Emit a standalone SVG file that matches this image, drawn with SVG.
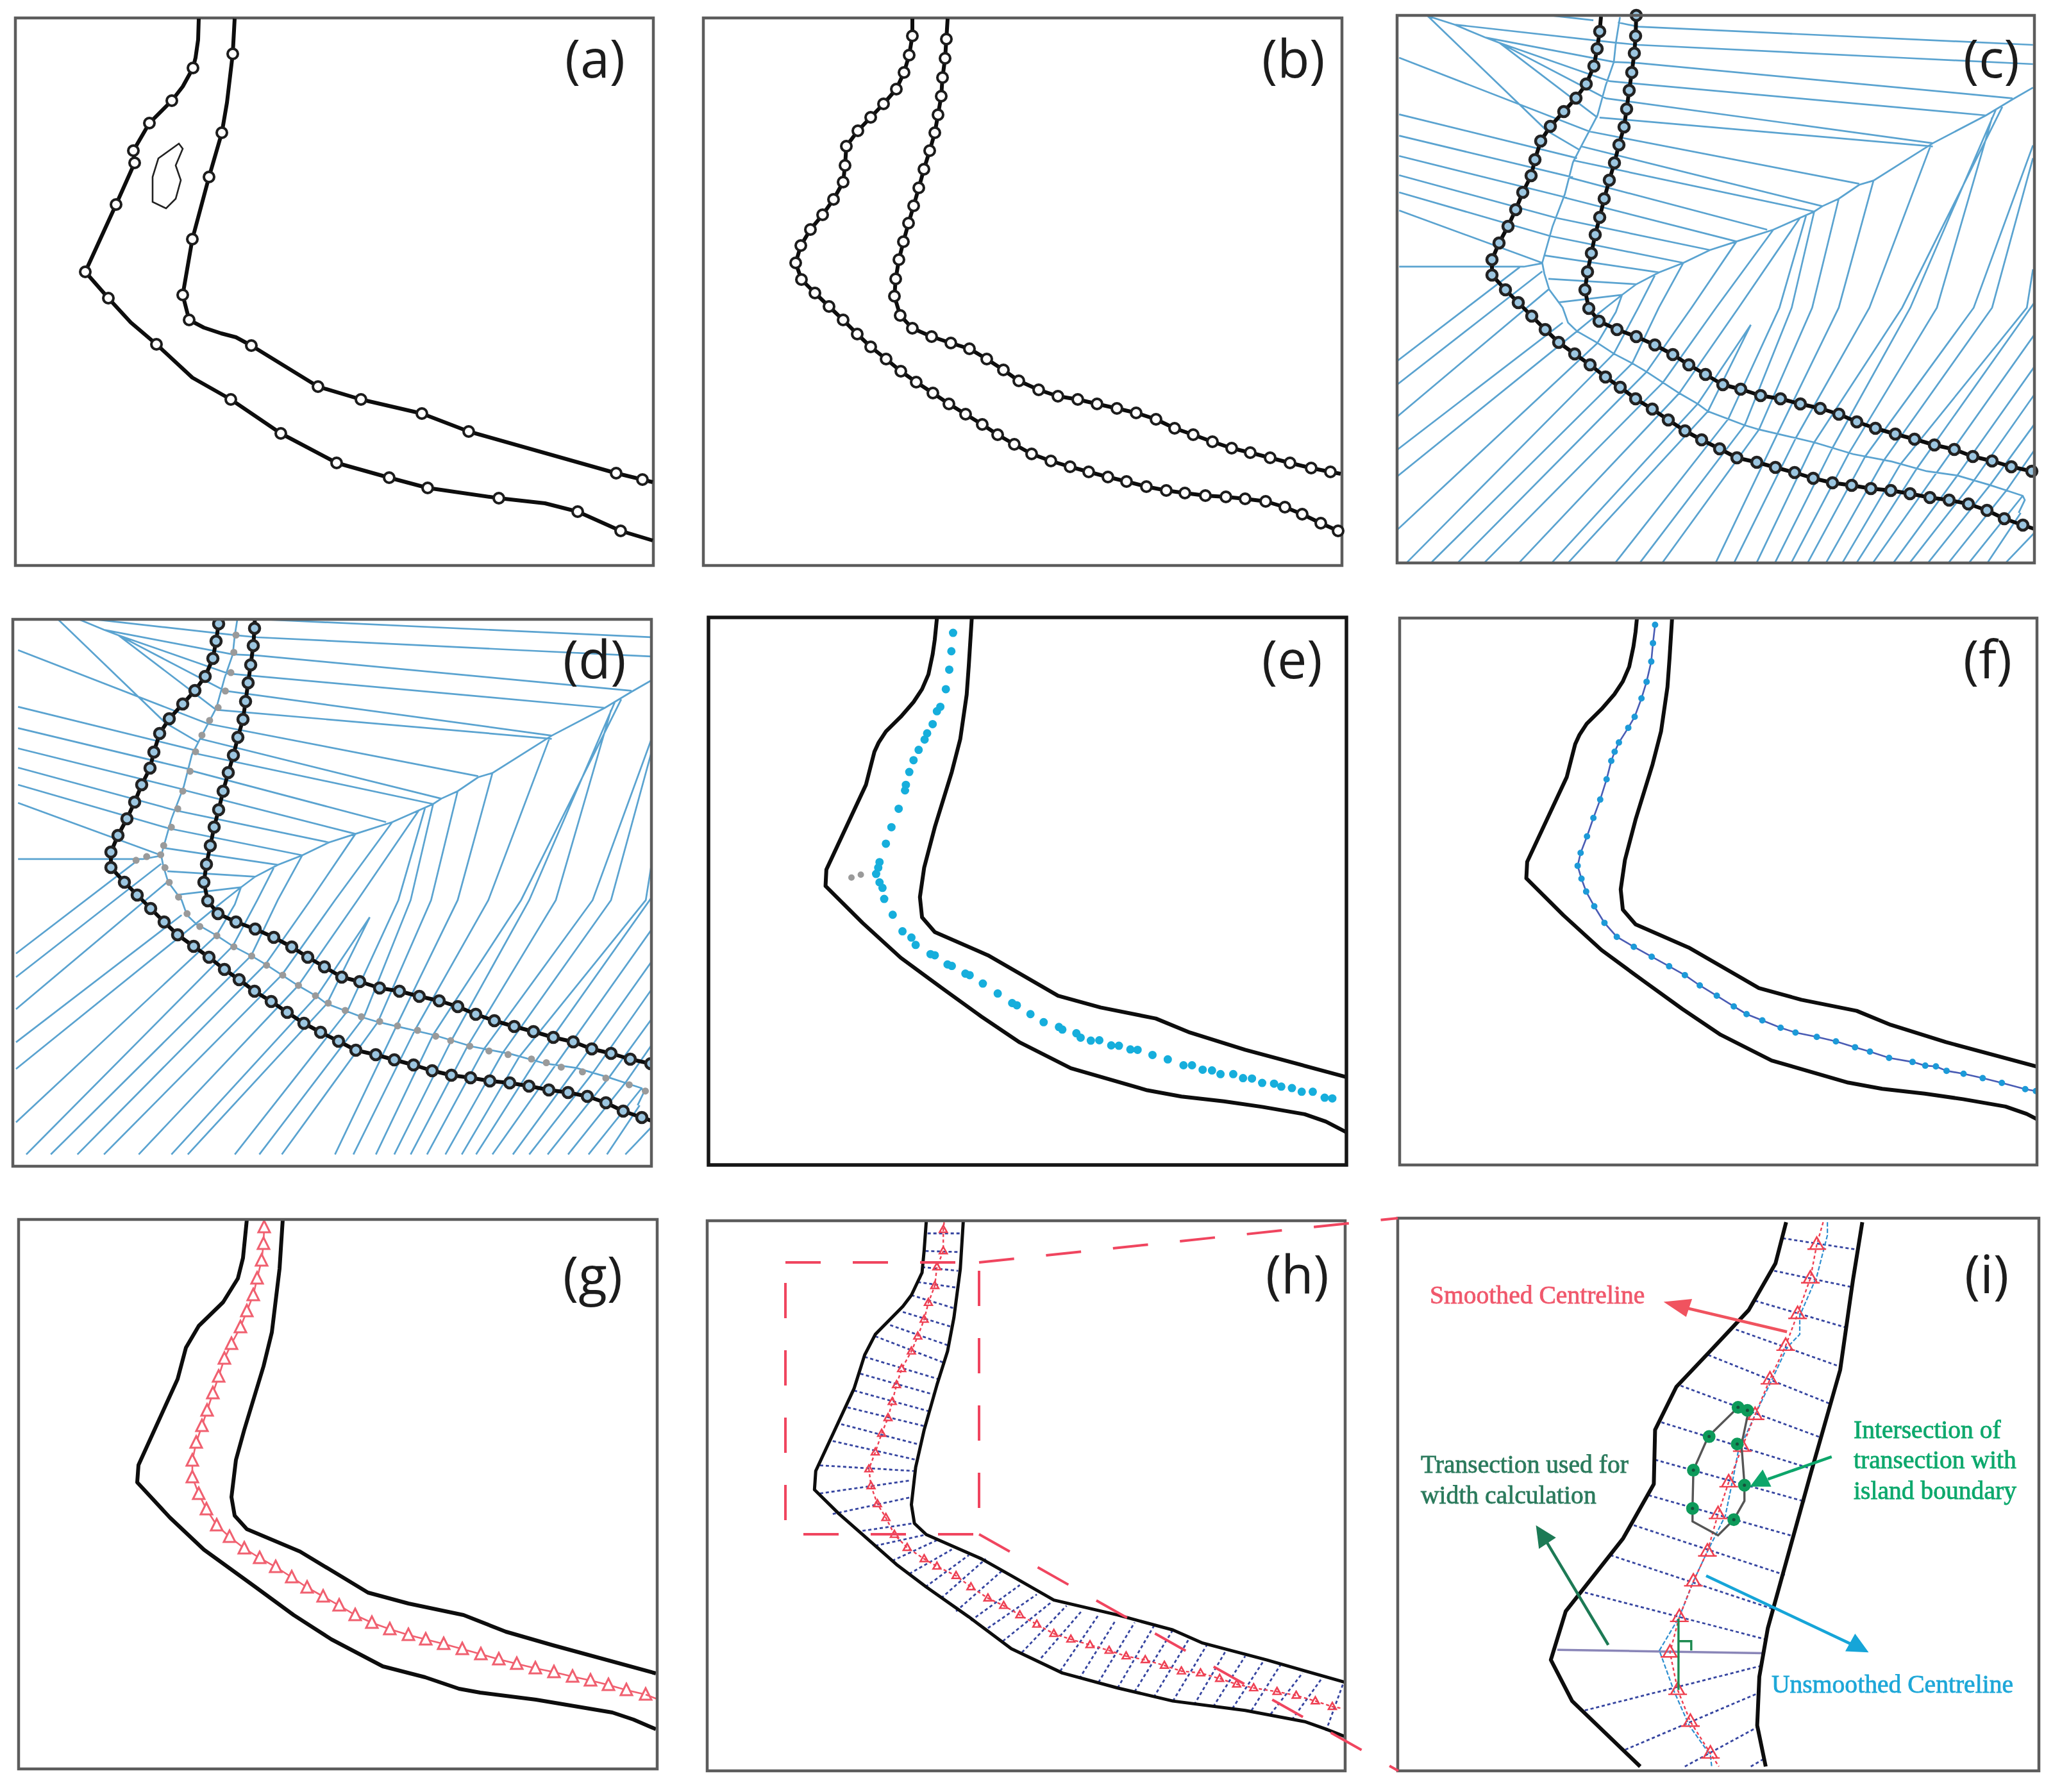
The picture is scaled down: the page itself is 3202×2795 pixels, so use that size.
<svg xmlns="http://www.w3.org/2000/svg" width="3202" height="2795" viewBox="0 0 3202 2795">
<style>
.frame{fill:none;stroke:#5c5c5c;stroke-width:4.5}
.frame-d{fill:none;stroke:#141414;stroke-width:5.5}
.bank{fill:none;stroke:#0c0c0c;stroke-width:6;stroke-linejoin:round;stroke-linecap:butt;vector-effect:non-scaling-stroke}
.bank-t{fill:none;stroke:#0c0c0c;stroke-width:5;stroke-linejoin:round;vector-effect:non-scaling-stroke}
.vor{fill:none;stroke:#5aa3d0;stroke-width:2.7;vector-effect:non-scaling-stroke}
.nodes{fill:none;stroke:none}
.ringline{fill:none;stroke:#0c0c0c;stroke-width:6;stroke-linejoin:round}
.label{font-family:"Open Sans","Noto Sans",sans-serif;font-size:82px;fill:#1a1a1a}
.note{font-family:"Liberation Serif",serif;font-size:39.6px;stroke-width:.8}
.dots{fill:none;stroke-linecap:round;vector-effect:non-scaling-stroke}
.tran{fill:none;stroke:#3644a0;stroke-width:2.8;stroke-dasharray:5 4;vector-effect:non-scaling-stroke}
.red{fill:none;stroke:#ee3f52;stroke-width:2.4;stroke-dasharray:5 4;vector-effect:non-scaling-stroke}
.zoomline{fill:none;stroke:#f0455e;stroke-width:4;stroke-dasharray:55 50}
</style>
<defs>
<filter id="soft" filterUnits="userSpaceOnUse" x="0" y="0" width="3202" height="2795"><feGaussianBlur stdDeviation=".7"/></filter>
<marker id="ringW" markerUnits="userSpaceOnUse" markerWidth="26" markerHeight="26" refX="13" refY="13" viewBox="0 0 26 26"><circle cx="13" cy="13" r="8" fill="#fff" stroke="#1a1a1a" stroke-width="4"/></marker>
<marker id="ringB" markerUnits="userSpaceOnUse" markerWidth="26" markerHeight="26" refX="13" refY="13" viewBox="0 0 26 26"><circle cx="13" cy="13" r="8" fill="#9cc6e0" stroke="#222" stroke-width="4.6"/></marker>
<marker id="triG" markerUnits="userSpaceOnUse" markerWidth="26" markerHeight="26" refX="13" refY="13" viewBox="0 0 26 26"><path d="M13 3L4 21H22Z" fill="#fff" stroke="#f0606f" stroke-width="3"/></marker>
<marker id="triH" markerUnits="userSpaceOnUse" markerWidth="30" markerHeight="30" refX="15" refY="15" viewBox="0 0 30 30"><path d="M15 4L6 22H24Z" fill="none" stroke="#ee3f52" stroke-width="4"/></marker>
<marker id="triI" markerUnits="userSpaceOnUse" markerWidth="52" markerHeight="52" refX="26" refY="26" viewBox="0 0 52 52"><path d="M26 6L10 38H42ZM4 38H48" fill="none" stroke="#ee4050" stroke-width="4"/></marker>
<clipPath id="cc"><rect x="2179" y="24" width="994" height="854"/></clipPath>
<clipPath id="cd"><rect x="20" y="966" width="996" height="853"/></clipPath>
<clipPath id="ce"><rect x="1105" y="963" width="995" height="854"/></clipPath>
<clipPath id="cf"><rect x="2183" y="964" width="994" height="853"/></clipPath>
<clipPath id="cg"><rect x="29" y="1902" width="996" height="857"/></clipPath>
<clipPath id="ci"><rect x="2180" y="1900" width="1000" height="862"/></clipPath>
<g id="voronoi" transform="translate(2179,20) scale(.6378,.3333)">
<path class="vor" d="M545 20L535 140 530 230 510 340 490 480 450 625 430 700 410 850 380 1000 355 1170 360 1220 372 1295 405 1380 418 1450 440 1490 490 1545 530 1595 575 1640 610 1680 650 1730 690 1780 735 1830 760 1865 850 1930 885 1950 930 1970 1020 2010 1115 2065 1210 2100 1295 2145 1370 2165 1450 2210 1530 2260 1535 2280 1520 2340
M1555 350L1505 405 1440 480 1310 610 1165 785 1130 805 1080 870 1040 905 1020 930 920 1015 830 1070 765 1110 700 1170 640 1215 585 1270 550 1320 490 1410
M5 1188L310 1188 355 1172
M365 10L480 35M540 45L590 65 1555 150M535 140L590 150 1230 210 1555 240M530 230L590 235 1505 400M520 320L1440 480M510 400L1310 610M495 490L1310 625M470 555L1130 800M450 625L1040 905M430 690L1020 930M420 770L905 1015M410 865L830 1070M390 960L765 1110M375 1045L700 1170M360 1135L640 1215M370 1245L585 1270M395 1355L550 1320
M75 15L365 550 445 640M75 15L140 55 215 115 250 140M140 55L535 140M215 115L530 230M250 140L520 320M250 140L510 400M250 140L490 490
M5 210L470 555M5 475L440 680M5 575L430 770M5 670L415 865M5 760L390 960M5 840L375 1045M5 925L355 1170
M440 1490L510 1380 550 1320M490 1545L535 1400 550 1320M530 1595L590 1380 630 1230M575 1640L640 1380 700 1170M610 1680L720 1380 830 1070M650 1730L780 1380 920 1015M690 1780L835 1380 985 960M735 1830L865 1460M760 1865L865 1460M810 1900L935 1380 1000 950M850 1930L965 1380 1020 930M885 1950L1015 1380 1080 870M930 1970L1080 1380 1165 785M975 1990L1155 1380 1305 620M1020 2010L1235 1380 1480 440M1065 2035L1255 1380 1465 450M1105 2060L1320 1380 1455 490M1145 2075L1410 1380 1555 620M1190 2095L1455 1380 1555 680M1230 2115L1540 1380 1555 1200M1270 2135L1568 1330M1320 2150L1568 1480M1370 2165L1568 1630M1410 2190L1568 1760M1450 2210L1568 1900M1490 2235L1568 2020
M0 1630L300 1190M0 1740L355 1210M0 1890L370 1295M0 2045L405 1450M0 2170L440 1490M0 2420L490 1545M25 2570L530 1595M85 2570L575 1640M150 2570L610 1680M215 2570L650 1730M300 2570L690 1780M380 2570L735 1830M420 2570L760 1865M535 2570L810 1900M595 2570L850 1930M650 2570L885 1950M780 2570L930 1970M825 2570L975 1990M880 2570L1020 2010M925 2570L1065 2035M965 2570L1105 2060M1005 2570L1145 2075M1050 2570L1190 2095M1090 2570L1230 2115M1125 2570L1270 2135M1165 2570L1320 2150M1215 2570L1370 2165M1255 2570L1410 2190M1300 2570L1450 2210M1350 2570L1490 2235M1400 2570L1530 2260M1445 2570L1525 2340M1490 2570L1560 2430"/>
</g>
<polyline id="ringC-l" points="2497,26 2495,49 2491,76 2486,103 2474,131 2458,153 2439,174 2418,197 2403,220 2394,249 2388,274 2375,300 2364,327 2352,353 2338,379 2327,405 2327,429 2348,452 2368,472 2389,493 2410,514 2431,534 2456,552 2480,569 2504,588 2527,604 2551,622 2577,638 2602,655 2628,672 2654,686 2682,700 2709,714 2740,721 2769,729 2799,737 2828,746 2858,753 2888,757 2918,762 2949,765 2979,770 3010,776 3040,780 3070,786 3099,796 3126,809 3155,819 3173,825" class="ringline" marker-mid="url(#ringB)"/>
<polyline id="ringC-r" points="2552,24 2551,56 2549,83 2545,113 2541,141 2537,170 2533,198 2525,226 2518,254 2510,281 2502,310 2495,339 2488,366 2482,395 2476,424 2472,452 2478,481 2494,501 2522,514 2552,525 2581,538 2609,553 2634,569 2660,584 2687,600 2715,607 2746,617 2777,622 2808,630 2839,637 2868,646 2896,658 2925,668 2956,677 2986,685 3017,694 3048,701 3077,712 3107,719 3137,728 3169,735 3173,736" class="ringline" marker-start="url(#ringB)" marker-mid="url(#ringB)"/>
<g id="riverE" transform="translate(1080,940) scale(.6631,.574)">
<polyline class="bank" points="575,42 570,100 565,140 555,195 540,235 520,270 490,310 455,350 438,380 428,405 418,450 408,495 315,725 313,770 400,870 490,965 590,1050 680,1125 770,1195 890,1265 1070,1325 1150,1342 1250,1355 1340,1370 1440,1390 1490,1410 1535,1437 1570,1460"/>
<polyline class="bank" points="657,42 650,170 645,250 630,370 610,460 570,610 545,720 535,800 540,855 570,895 695,958 860,1068 960,1100 1090,1130 1170,1168 1300,1215 1535,1288 1570,1298"/>
</g>
</defs>

<g id="figure" filter="url(#soft)">
<rect x="0" y="0" width="3202" height="2795" fill="#fff"/>

<g id="panel-a">
<rect class="frame" x="24" y="28" width="995" height="854"/>
<polyline class="bank" points="310,29 309,62 305,90 301,106 285,135 268,157 233,192 208,235 210,254 181,319 133,424 169,465 204,503 244,537 300,589 360,623 438,676 525,722 607,745 667,761 778,777 850,785 901,798 968,828 1018,843"/>
<polyline class="bank" points="366,29 363,84 354,160 346,207 326,276 300,373 285,460 295,499 318,511 345,520 368,526 392,539 496,603 563,623 658,645 731,673 961,738 1002,748 1018,752"/>
<polyline class="nodes" points="301,106 268,157 233,192 208,235 210,254 181,319 133,424 169,465 244,537 360,623 438,676 525,722 607,745 667,761 778,777 901,798 968,828" marker-start="url(#ringW)" marker-mid="url(#ringW)" marker-end="url(#ringW)"/>
<polyline class="nodes" points="363,84 346,207 326,276 300,373 285,460 295,499 392,539 496,603 563,623 658,645 731,673 961,738 1002,748" marker-start="url(#ringW)" marker-mid="url(#ringW)" marker-end="url(#ringW)"/>
<polygon points="279,224 285,232 274,258 282,281 274,310 259,325 238,315 238,276 247,247" fill="none" stroke="#222" stroke-width="2.6"/>
<text class="label" x="881" y="121">(a)</text>
</g>

<g id="panel-b">
<rect class="frame" x="1097" y="28" width="996" height="854"/>
<polyline class="ringline" marker-mid="url(#ringW)" points="1423,29 1423,56 1418,86 1410,113 1398,139 1378,162 1358,183 1338,204 1320,228 1318,258 1315,284 1300,311 1283,335 1264,358 1249,383 1241,410 1250,436 1271,457 1293,478 1315,499 1337,521 1358,541 1382,560 1405,579 1429,596 1455,613 1480,630 1506,646 1532,662 1556,678 1582,693 1609,708 1639,719 1669,728 1698,736 1728,744 1757,751 1788,759 1819,765 1848,769 1880,773 1912,775 1942,778 1974,782 2004,791 2031,802 2060,816 2087,828 2093,831"/>
<polyline class="ringline" marker-mid="url(#ringW)" points="1478,29 1476,61 1474,91 1470,121 1468,150 1463,179 1458,207 1450,235 1441,264 1433,293 1425,321 1417,348 1409,377 1402,405 1397,435 1395,462 1404,492 1423,512 1453,525 1483,535 1512,544 1539,560 1565,577 1589,594 1620,608 1650,618 1681,623 1711,630 1742,637 1772,644 1803,654 1832,668 1861,678 1891,689 1921,699 1950,706 1981,714 2012,722 2045,730 2075,736 2091,739"/>
<text class="label" x="1968" y="121">(b)</text>
</g>

<g id="panel-c">
<g clip-path="url(#cc)"><use href="#voronoi"/></g>
<use href="#ringC-l"/><use href="#ringC-r"/>
<rect class="frame" x="2179" y="24" width="994" height="854"/>
<text class="label" x="3062" y="121">(c)</text>
</g>

<g id="panel-d">
<g clip-path="url(#cd)">
<use href="#voronoi" transform="translate(-2154,924)"/>
<use href="#ringC-l" transform="translate(-2154,924)"/>
<use href="#ringC-r" transform="translate(-2154,924)"/>
<g transform="translate(0,940) scale(.6631,.574)">
<path class="dots" stroke="#9a9a9a" stroke-width="11" d="M555 88h.01M550 135h.01M543 190h.01M530 240h.01M513 285h.01M493 320h.01M475 360h.01M460 405h.01M447 458h.01M430 512h.01M418 560h.01M403 610h.01M385 660h.01M378 685h.01M388 720h.01M398 760h.01M420 800h.01M440 845h.01M470 880h.01M510 905h.01M550 935h.01M592 960h.01M627 985h.01M665 1012h.01M702 1040h.01M742 1068h.01M772 1088h.01M812 1108h.01M850 1125h.01M893 1138h.01M935 1150h.01M982 1162h.01M1025 1178h.01M1060 1190h.01M1105 1205h.01M1150 1218h.01M1195 1228h.01M1250 1240h.01M1285 1250h.01M1320 1262h.01M1370 1275h.01M1425 1292h.01M1480 1310h.01M1518 1327h.01M345 690h.01M320 700h.01"/>
</g>
</g>
<rect class="frame" x="20" y="966" width="996" height="853"/>
<text class="label" x="878" y="1058">(d)</text>
</g>

<g id="panel-e">
<g clip-path="url(#ce)"><use href="#riverE"/></g>
<g transform="translate(1080,940) scale(.6631,.574)">
<path class="dots" stroke="#12aedc" stroke-width="13" d="M613 82h.01M609 132h.01M604 182h.01M596 235h.01M583 283h.01M575 295h.01M565 330h.01M552 355h.01M546 372h.01M532 400h.01M520 428h.01M510 460h.01M502 495h.01M500 510h.01M485 560h.01M468 610h.01M455 655h.01M440 705h.01M437 720h.01M432 737h.01M440 760h.01M447 775h.01M451 805h.01M471 848h.01M494 893h.01M515 910h.01M525 930h.01M560 955h.01M570 958h.01M600 983h.01M610 987h.01M642 1008h.01M652 1012h.01M683 1035h.01M718 1062h.01M752 1088h.01M763 1094h.01M795 1118h.01M826 1140h.01M862 1153h.01M870 1160h.01M903 1170h.01M913 1182h.01M937 1190h.01M957 1189h.01M985 1203h.01M1003 1204h.01M1030 1214h.01M1047 1215h.01M1082 1229h.01M1118 1241h.01M1155 1257h.01M1175 1257h.01M1200 1269h.01M1222 1271h.01M1242 1281h.01M1272 1281h.01M1295 1292h.01M1316 1293h.01M1340 1305h.01M1368 1307h.01M1385 1315h.01M1410 1319h.01M1433 1329h.01M1459 1329h.01M1487 1345h.01M1505 1347h.01"/>
<path class="dots" stroke="#9a9a9a" stroke-width="10" d="M374 747h.01M396 739h.01"/>
</g>
<rect class="frame-d" x="1105" y="963" width="995" height="854"/>
<text class="label" x="1968" y="1058">(e)</text>
</g>

<g id="panel-f">
<g clip-path="url(#cf)">
<use href="#riverE" transform="translate(1093,-12)"/>
<g transform="translate(2160,940) scale(.6636,.574)">
<polyline fill="none" stroke="#4a5cb4" stroke-width="2.6" style="vector-effect:non-scaling-stroke" points="635,60 630,110 626,160 615,215 603,260 587,310 572,340 550,380 540,405 532,430 521,480 506,535 490,585 475,635 460,680 453,715 462,750 473,785 492,825 516,870 545,908 585,935 627,962 668,988 705,1012 740,1040 780,1068 820,1097 850,1118 887,1135 930,1155 965,1168 1015,1180 1060,1192 1105,1208 1140,1220 1185,1237 1240,1248 1270,1258 1295,1260 1320,1272 1360,1280 1405,1292 1450,1305 1505,1322 1530,1327"/>
<path class="dots" stroke="#1a9ad8" stroke-width="10" d="M635 60h.01M630 110h.01M626 160h.01M615 215h.01M603 260h.01M587 310h.01M572 340h.01M550 380h.01M540 405h.01M532 430h.01M521 480h.01M506 535h.01M490 585h.01M475 635h.01M460 680h.01M453 715h.01M462 750h.01M473 785h.01M492 825h.01M516 870h.01M545 908h.01M585 935h.01M627 962h.01M668 988h.01M705 1012h.01M740 1040h.01M780 1068h.01M820 1097h.01M850 1118h.01M887 1135h.01M930 1155h.01M965 1168h.01M1015 1180h.01M1060 1192h.01M1105 1208h.01M1140 1220h.01M1185 1237h.01M1240 1248h.01M1270 1258h.01M1295 1260h.01M1320 1272h.01M1360 1280h.01M1405 1292h.01M1450 1305h.01M1505 1322h.01M1530 1327h.01"/>
</g>
</g>
<rect class="frame" x="2183" y="964" width="994" height="853"/>
<text class="label" x="3062" y="1058">(f)</text>
</g>

<g id="panel-g">
<g clip-path="url(#cg)">
<polyline class="bank" points="385,1902 379,1962 371,1994 348,2031 310,2068 290,2102 277,2151 216,2285 214,2312 265,2367 318,2417 398,2475 458,2519 517,2557 597,2599 663,2616 716,2634 749,2640 836,2651 955,2671 988,2682 1023,2697"/>
<polyline class="bank" points="441,1902 436,1979 424,2078 411,2131 381,2230 368,2277 361,2335 366,2364 385,2385 468,2420 574,2484 637,2501 723,2519 789,2545 862,2566 1023,2610"/>
<polyline fill="none" stroke="#f0606f" stroke-width="2.6" marker-start="url(#triG)" marker-mid="url(#triG)" marker-end="url(#triG)" points="412,1914 411,1940 408,1966 401,1994 395,2020 385,2045 375,2070 361,2096 350,2119 341,2147 332,2173 323,2200 315,2224 306,2250 300,2278 300,2304 310,2330 322,2354 338,2379 358,2397 381,2415 405,2430 430,2444 455,2460 479,2476 504,2490 529,2504 554,2519 580,2531 608,2541 637,2550 664,2557 692,2564 721,2572 750,2580 778,2588 806,2595 835,2602 864,2608 893,2615 921,2621 949,2628 977,2636 1007,2643"/>
<polyline fill="none" stroke="#f0606f" stroke-width="2.6" points="1007,2643 1025,2650"/>
</g>
<rect class="frame" x="29" y="1902" width="996" height="857"/>
<text class="label" x="878" y="2019">(g)</text>
</g>

<g id="panel-h">
<g transform="translate(1080,1880) scale(.6631,.5835)">
<path class="tran" d="M553 75L637 75M548 122L632 125M540 165L625 175M530 205L622 220M515 240L615 275M495 285L610 325M465 320L603 375M430 350L590 420M405 405L580 465M395 450L565 505M380 495L555 550M365 540L545 590M350 585L535 640M330 630L525 680M300 695L520 710M300 770L515 735M330 825L515 780M400 870L520 850M430 910L550 880M470 950L575 895M510 985L610 920M548 1020L650 935M585 1050L690 945M620 1085L730 975M655 1110L770 1015M695 1130L810 1040M730 1165L845 1060M775 1195L880 1070M820 1210L915 1085M865 1245L955 1095M910 1265L995 1110M955 1275L1040 1115M1000 1290L1085 1125M1040 1300L1130 1135M1085 1315L1170 1155M1130 1325L1210 1175M1180 1335L1255 1190M1225 1340L1300 1205M1270 1345L1345 1215M1315 1350L1385 1225M1360 1360L1435 1250M1410 1375L1480 1265M1490 1405L1530 1280"/>
<polyline class="bank-t" points="550,42 545,120 540,180 515,240 495,270 430,345 405,400 380,490 290,710 287,760 345,825 400,880 480,960 550,1020 650,1100 750,1185 870,1250 1000,1290 1130,1325 1300,1350 1440,1380 1490,1400 1535,1420"/>
<polyline class="bank-t" points="637,42 630,170 615,300 600,390 575,480 545,600 525,700 515,800 522,850 550,880 680,945 750,990 850,1055 1000,1095 1130,1135 1200,1170 1350,1215 1535,1275"/>
<polyline class="red" marker-mid="url(#triH)" points="592,45 590,65 590,122 575,165 570,215 555,260 545,305 530,350 515,390 492,437 480,480 470,525 460,568 445,610 430,660 415,705 420,750 435,798 455,835 475,880 505,915 545,945 575,965 620,990 655,1020 695,1050 732,1070 770,1095 810,1120 850,1145 890,1160 935,1175 980,1190 1020,1205 1065,1215 1110,1230 1150,1245 1195,1250 1240,1265 1280,1280 1320,1290 1375,1300 1420,1310 1465,1325 1505,1340 1530,1345"/>
</g>
<rect class="frame" x="1103" y="1904" width="995" height="858"/>
<text class="label" x="1974" y="2017">(h)</text>
</g>

<g id="panel-i">
<g clip-path="url(#ci)">
<g transform="translate(2160,1880) scale(.6636,.5835)">
<path class="tran" d="M935 88L1108 118M915 175L1095 218M870 255L1088 328M825 332L1072 432M760 400L1050 532M695 482L1028 622M650 580L1005 705M635 680L988 792M620 775L962 885M585 855L940 988M530 935L915 1080M470 1035L895 1160M470 1350L880 1232M565 1455L875 1305M705 1500L875 1395M860 1500L890 1480"/>
<path d="M405 1188L890 1197" fill="none" stroke="#8a86b8" stroke-width="3.5" style="vector-effect:non-scaling-stroke"/>
<polyline class="bank" points="943,45 918,155 855,280 760,395 685,485 635,600 632,745 560,890 425,1085 390,1215 440,1325 600,1500"/>
<polyline class="bank" points="1122,45 1100,200 1070,440 1000,720 900,1130 880,1260 875,1390 895,1500"/>
<polyline fill="none" stroke="#2f8fd0" stroke-width="2.2" stroke-dasharray="7 3" style="vector-effect:non-scaling-stroke" points="1040,45 1040,80 1015,190 975,295 975,345 945,380 908,470 870,560 830,660 820,720 800,830 758,925 725,1005 692,1100 645,1190 680,1300 715,1390 765,1470 768,1500"/>
<polyline class="red" marker-mid="url(#triI)" points="1030,45 1015,105 1000,195 970,290 942,375 905,465 870,560 840,645 808,740 783,825 758,925 725,1005 692,1100 670,1195 688,1295 718,1380 765,1465 785,1500"/>
<polygon points="830,540 855,548 838,640 845,745 845,790 820,840 783,882 723,845 723,808 725,708 760,618" fill="none" stroke="#555" stroke-width="3.4" style="vector-effect:non-scaling-stroke"/>
<path d="M690 1105V1295M690 1165H720V1190" fill="none" stroke="#1a8a50" stroke-width="3.4" style="vector-effect:non-scaling-stroke"/>
<path class="dots" stroke="#0d9a5a" stroke-width="20" d="M830 540h.01M852 548h.01M828 638h.01M762 618h.01M725 708h.01M845 748h.01M723 810h.01M820 840h.01"/>
<path class="dots" stroke="#14503a" stroke-width="5" d="M830 540h.01M852 548h.01M828 638h.01M762 618h.01M725 708h.01M845 748h.01M723 810h.01M820 840h.01"/>
</g>
</g>
<rect class="frame" x="2180" y="1900" width="1000" height="862"/>
<text class="label" x="3064" y="2017">(i)</text>
<text class="note" x="2230" y="2033" fill="#f0586c" stroke="#f0586c">Smoothed Centreline</text>
<text class="note" x="2216" y="2297" fill="#2b7a5c" stroke="#2b7a5c">Transection used for</text>
<text class="note" x="2216" y="2345" fill="#2b7a5c" stroke="#2b7a5c">width calculation</text>
<text class="note" x="2891" y="2243" fill="#0aa86c" stroke="#0aa86c">Intersection of</text>
<text class="note" x="2891" y="2290" fill="#0aa86c" stroke="#0aa86c">transection with</text>
<text class="note" x="2891" y="2338" fill="#0aa86c" stroke="#0aa86c">island boundary</text>
<text class="note" x="2763" y="2640" fill="#1ea7d8" stroke="#1ea7d8">Unsmoothed Centreline</text>
</g>

<g id="connectors">
<rect class="zoomline" x="1225" y="1969" width="302" height="424"/>
<path class="zoomline" d="M1527 1969L2180 1900M1527 2393L2181 2762"/>
<g transform="translate(2160,1880) scale(.6636,.5835)" stroke-width="4.5">
<path d="M945 338L700 272" fill="none" stroke="#f0525e" style="vector-effect:non-scaling-stroke"/>
<polygon points="655,258 722,250 708,298" fill="#f0525e"/>
<path d="M1050 672L900 732" fill="none" stroke="#0aa56a" style="vector-effect:non-scaling-stroke"/>
<polygon points="858,752 888,706 908,752" fill="#0aa56a"/>
<path d="M525 1175L375 890" fill="none" stroke="#1f7a55" style="vector-effect:non-scaling-stroke"/>
<polygon points="355,855 402,888 362,918" fill="#1f7a55"/>
<path d="M755 990L1100 1175" fill="none" stroke="#14a5d8" style="vector-effect:non-scaling-stroke"/>
<polygon points="1137,1195 1105,1145 1082,1192" fill="#14a5d8"/>
</g>
</g>
</g>
</svg>
